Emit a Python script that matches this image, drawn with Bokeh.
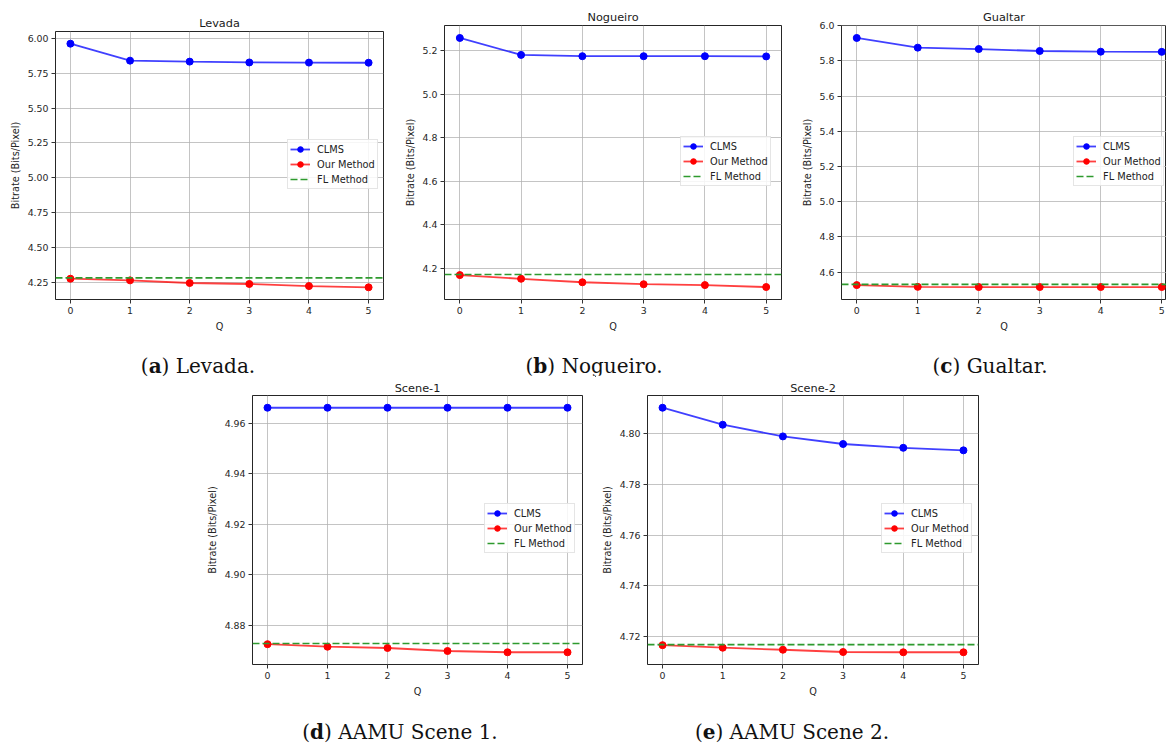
from bokeh.plotting import figure
from bokeh.models import Range1d, PrintfTickFormatter, Legend, LegendItem, Div, Spacer
from bokeh.layouts import column, row
from bokeh.embed import file_html
from bokeh.resources import INLINE

# ---------------- data ----------------
Q = [0, 1, 2, 3, 4, 5]

levada_clms = [5.964, 5.842, 5.835, 5.829, 5.828, 5.827]
levada_ours = [4.274, 4.262, 4.243, 4.236, 4.221, 4.212]
levada_fl = 4.280
levada_yticks = [4.25, 4.50, 4.75, 5.00, 5.25, 5.50, 5.75, 6.00]

nogueiro_clms = [5.260, 5.182, 5.176, 5.176, 5.176, 5.175]
nogueiro_ours = [4.168, 4.151, 4.135, 4.126, 4.122, 4.113]
nogueiro_fl = 4.171
nogueiro_yticks = [4.2, 4.4, 4.6, 4.8, 5.0, 5.2]

gualtar_clms = [5.930, 5.875, 5.867, 5.856, 5.852, 5.851]
gualtar_ours = [4.526, 4.516, 4.515, 4.515, 4.515, 4.515]
gualtar_fl = 4.530
gualtar_yticks = [4.6, 4.8, 5.0, 5.2, 5.4, 5.6, 5.8, 6.0]

scene1_clms = [4.9662, 4.9662, 4.9662, 4.9662, 4.9662, 4.9662]
scene1_ours = [4.8725, 4.8715, 4.8710, 4.8698, 4.8693, 4.8693]
scene1_fl = 4.8728
scene1_yticks = [4.88, 4.90, 4.92, 4.94, 4.96]

scene2_clms = [4.8102, 4.8035, 4.7989, 4.7959, 4.7944, 4.7934]
scene2_ours = [4.7166, 4.7156, 4.7148, 4.7139, 4.7138, 4.7138]
scene2_fl = 4.7168
scene2_yticks = [4.72, 4.74, 4.76, 4.78, 4.80]

series_labels = ["CLMS", "Our Method", "FL Method"]
titles = ["Levada", "Nogueiro", "Gualtar", "Scene-1", "Scene-2"]
captions = [("a", "Levada."), ("b", "Nogueiro."), ("c", "Gualtar."),
            ("d", "AAMU Scene 1."), ("e", "AAMU Scene 2.")]

# ---------------- style ----------------
BLUE = "#0000ff"
RED = "#ff0000"
GREEN = "#2e9a2e"
FONT = "DejaVu Sans"


def panel(title, clms, ours, fl, yticks, yfmt, width, height,
          mb_left, mb_right, mb_top, mb_bottom, legend_xy, title_standoff,
          x_end_frac=0.05):
    vals = clms + ours + [fl]
    lo, hi = min(vals), max(vals)
    pad = 0.05 * (hi - lo)
    xs = (max(Q) - min(Q))
    x0 = min(Q) - 0.05 * xs
    x1 = max(Q) + 0.05 * xs
    p = figure(width=width, height=height, output_backend="svg",
               toolbar_location=None,
               x_range=Range1d(x0, max(Q) + x_end_frac * xs),
               y_range=Range1d(lo - pad, hi + pad),
               min_border_left=mb_left, min_border_right=mb_right,
               min_border_top=mb_top, min_border_bottom=mb_bottom)
    p.title.text = title
    p.title.align = "center"
    p.title.text_font = FONT
    p.title.text_font_size = "11.3px"
    p.title.text_font_style = "normal"
    p.title.text_color = "#1a1a1a"
    p.title.standoff = title_standoff

    p.xaxis.ticker = Q
    p.yaxis.ticker = yticks
    p.yaxis.formatter = PrintfTickFormatter(format=yfmt)
    p.xaxis.axis_label = "Q"
    p.yaxis.axis_label = "Bitrate (Bits/Pixel)"
    for ax in p.axis:
        ax.axis_line_color = None
        ax.major_tick_in = 0
        ax.major_tick_out = 4
        ax.major_tick_line_color = "#333333"
        ax.minor_tick_line_color = None
        ax.major_label_standoff = 3
        ax.major_label_text_font = FONT
        ax.major_label_text_font_size = "9.4px"
        ax.major_label_text_color = "#262626"
        ax.axis_label_text_font = FONT
        ax.axis_label_text_font_size = "9.7px"
        ax.axis_label_text_font_style = "normal"
        ax.axis_label_text_color = "#262626"
        ax.axis_label_standoff = 4

    p.grid.grid_line_color = "#b0b0b0"
    p.grid.grid_line_alpha = 0.75
    p.grid.grid_line_width = 1
    p.outline_line_color = "black"
    p.outline_line_alpha = 0.85
    p.outline_line_width = 1
    p.background_fill_color = "white"
    p.border_fill_color = "white"

    l1 = p.line(Q, clms, line_color=BLUE, line_width=1.8, line_alpha=0.75)
    m1 = p.scatter(Q, clms, size=7, fill_color=BLUE, line_color=BLUE)
    l2 = p.line(Q, ours, line_color=RED, line_width=1.8, line_alpha=0.75)
    m2 = p.scatter(Q, ours, size=7, fill_color=RED, line_color=RED)
    # horizontal reference line across the whole axes width
    l3 = p.line([x0, x1], [fl, fl], line_color=GREEN, line_dash="7 3", line_width=1.6)

    legend = Legend(items=[LegendItem(label=series_labels[0], renderers=[l1, m1]),
                           LegendItem(label=series_labels[1], renderers=[l2, m2]),
                           LegendItem(label=series_labels[2], renderers=[l3])],
                    location=legend_xy)
    legend.padding = 2
    legend.spacing = 1
    legend.margin = 0
    legend.glyph_width = 20
    legend.glyph_height = 14
    legend.label_height = 14
    legend.label_standoff = 7
    legend.label_text_font = FONT
    legend.label_text_font_size = "9.8px"
    legend.label_text_color = "#222222"
    legend.border_line_color = "#cccccc"
    legend.border_line_width = 1
    legend.background_fill_alpha = 0.85
    p.add_layout(legend)
    return p


def caption_row(items, width, height, top):
    spans = []
    for cx, (letter, name) in items:
        spans.append(
            '<span style="position:absolute;left:%dpx;top:%dpx;transform:translateX(-50%%);'
            'white-space:nowrap;font-family:\'DejaVu Serif\';font-size:20px;'
            'line-height:%dpx;color:#111;">(<b>%s</b>) %s</span>' % (cx, top, height, letter, name))
    html = ('<div style="position:relative;width:%dpx;height:%dpx;overflow:visible;">' % (width, height)
            + "".join(spans) + '</div>')
    return Div(text=html, width=width, height=height, margin=0)


pa = panel(titles[0], levada_clms, levada_ours, levada_fl, levada_yticks, "%.2f",
           395, 346, 55, 12, 25, 53, (232, 110), 3)
pb = panel(titles[1], nogueiro_clms, nogueiro_ours, nogueiro_fl, nogueiro_yticks, "%.1f",
           395, 352, 49, 9, 25, 53, (236, 113), 3)
pc = panel(titles[2], gualtar_clms, gualtar_ours, gualtar_fl, gualtar_yticks, "%.1f",
           376, 352, 51, 0, 25, 53, (232, 113), 3, x_end_frac=0.0156)
pd = panel(titles[3], scene1_clms, scene1_ours, scene1_fl, scene1_yticks, "%.2f",
           395, 345, 52, 13, 20, 56, (232, 111), 2)
pe = panel(titles[4], scene2_clms, scene2_ours, scene2_fl, scene2_yticks, "%.2f",
           405, 345, 52, 22, 20, 56, (234, 111), 2)

cap1 = caption_row([(198, captions[0]), (594, captions[1]), (990, captions[2])], 1166, 23, 3)
cap2 = caption_row([(400, captions[3]), (792, captions[4])], 1166, 24, 0)

col_a = column(Spacer(width=395, height=6, margin=0), pa, spacing=0)
col_b = column(pb, spacing=0)
col_c = column(pc, spacing=0)

layout = column(row(col_a, col_b, col_c), cap1,
                row(Spacer(width=200, height=345, margin=0), pd, pe), cap2)

open("out.html", "w").write(file_html(layout, INLINE))
